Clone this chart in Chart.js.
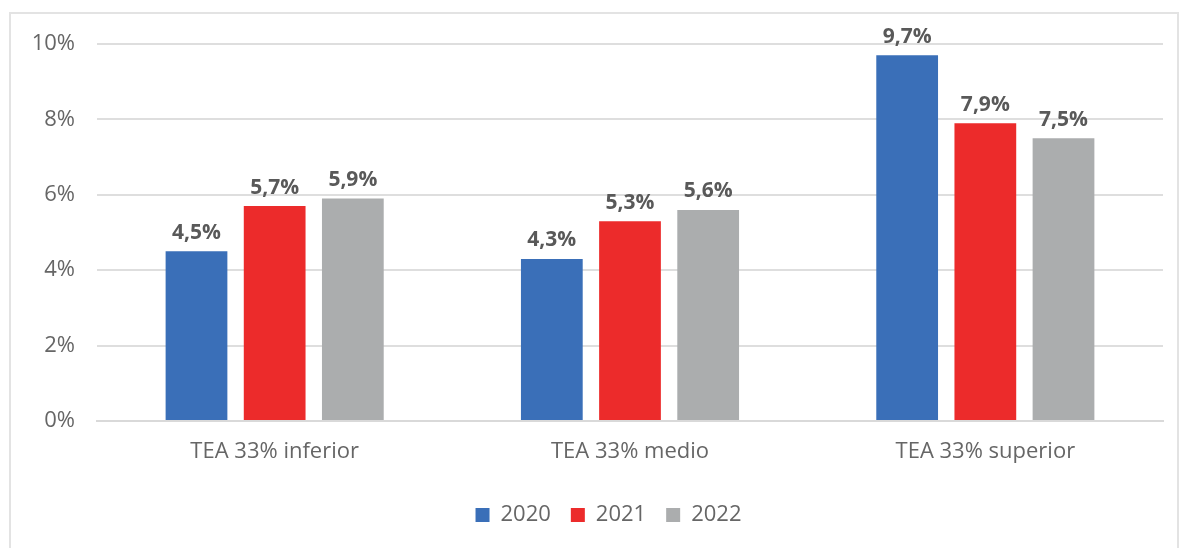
<!DOCTYPE html>
<html>
<head>
<meta charset="utf-8">
<script src="https://cdn.jsdelivr.net/npm/chart.js@4"></script>
<style>
  html, body { margin: 0; padding: 0; background: #fff; overflow: hidden; }
  #frame { position: absolute; left: 9px; top: 12px; width: 1170px; height: 560px; border: 2px solid #e3e3e3; box-sizing: border-box; }
  #wrap { position: absolute; left: 0; top: 0; width: 1181px; height: 548px; }
</style>
</head>
<body>
<div id="frame"></div>
<div id="wrap"><canvas id="chart"></canvas></div>
<script>
const categories = ['TEA 33% inferior', 'TEA 33% medio', 'TEA 33% superior'];
const years = ['2020', '2021', '2022'];
const values2020 = [4.5, 4.3, 9.7];
const values2021 = [5.7, 5.3, 7.9];
const values2022 = [5.9, 5.6, 7.5];
const yTicks = [0, 2, 4, 6, 8, 10];

const colors = ['#3a6fb8', '#ec2b2b', '#abadae'];
const FONT = '"Open Sans", Lato, sans-serif';

function pct(v) {
  return v.toFixed(1).replace('.', ',') + '%';
}

// draws the value above each bar
const barLabels = {
  id: 'barLabels',
  afterDatasetsDraw(chart) {
    const ctx = chart.ctx;
    ctx.save();
    ctx.font = 'bold 21px ' + FONT;
    ctx.fillStyle = '#595959';
    ctx.textAlign = 'center';
    ctx.textBaseline = 'bottom';
    chart.data.datasets.forEach((ds, i) => {
      chart.getDatasetMeta(i).data.forEach((bar, j) => {
        ctx.fillText(pct(ds.data[j]), bar.x, bar.y - 8);
      });
    });
    ctx.restore();
  }
};

// the legend sits a bit right of centre in the original
const legendShift = {
  id: 'legendShift',
  afterLayout(chart) {
    const lg = chart.legend;
    if (lg) {
      lg.left += 27;
      lg.right += 27;
    }
  }
};

new Chart(document.getElementById('chart'), {
  type: 'bar',
  data: {
    labels: categories,
    datasets: [
      { label: years[0], data: values2020, backgroundColor: colors[0] },
      { label: years[1], data: values2021, backgroundColor: colors[1] },
      { label: years[2], data: values2022, backgroundColor: colors[2] }
    ]
  },
  options: {
    responsive: true,
    maintainAspectRatio: false,
    animation: false,
    layout: { padding: { top: 44, right: 18, bottom: 12, left: 0 } },
    datasets: {
      bar: { categoryPercentage: 0.66, barPercentage: 0.79 }
    },
    plugins: {
      legend: {
        position: 'bottom',
        labels: {
          boxWidth: 14,
          boxHeight: 14,
          padding: 20,
          color: '#666',
          font: { family: FONT, size: 22 }
        }
      },
      tooltip: { enabled: false }
    },
    scales: {
      x: {
        grid: { display: false },
        border: { color: '#d9d9d9', width: 2 },
        ticks: { color: '#666', padding: 10, font: { family: FONT, size: 22 } },
        afterFit: axis => { axis.height = 63; }
      },
      y: {
        min: 0,
        max: 10,
        afterBuildTicks: axis => { axis.ticks = yTicks.map(v => ({ value: v })); },
        grid: { color: '#dedede', lineWidth: 2, drawTicks: false },
        border: { display: false },
        ticks: {
          color: '#666',
          padding: 22,
          font: { family: FONT, size: 22 },
          callback: v => v + '%'
        },
        afterFit: axis => { axis.width = 97; }
      }
    }
  },
  plugins: [barLabels, legendShift]
});
</script>
</body>
</html>
